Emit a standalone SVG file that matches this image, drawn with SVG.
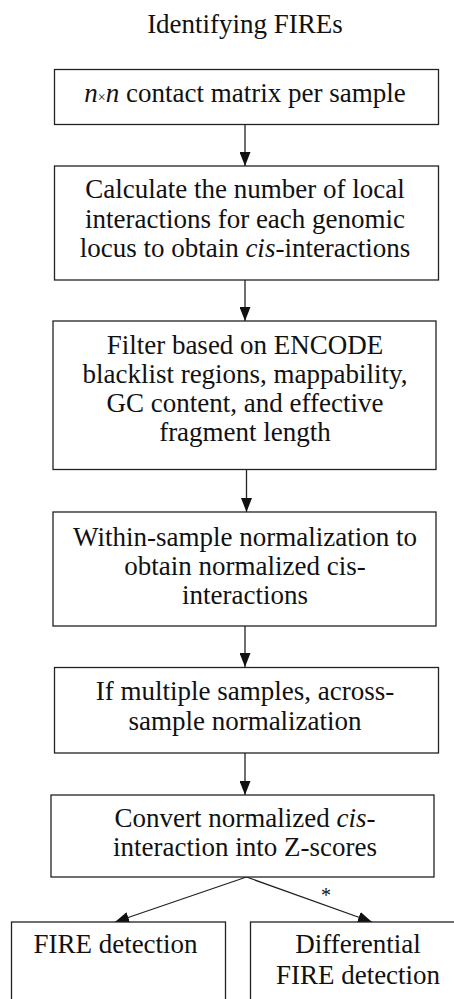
<svg xmlns="http://www.w3.org/2000/svg" width="454" height="999" viewBox="0 0 454 999">
<defs>
<style>
.box{fill:#fff;stroke:#222;stroke-width:1.3}
.t{font-family:"Liberation Serif","Times New Roman",serif;font-size:27px;fill:#111;text-anchor:middle}
.c{stroke:#222;stroke-width:1.3;fill:none}
</style>
<marker id="ah" viewBox="0 0 14 11" refX="14" refY="5.5" markerWidth="14" markerHeight="11" markerUnits="userSpaceOnUse" orient="auto">
<path d="M0,0 L14,5.5 L0,11 Z" fill="#111"/>
</marker>
</defs>
<rect width="454" height="999" fill="#fff"/>
<text class="t" x="245" y="33">Identifying FIREs</text>
<g id="connectors">
<line class="c" x1="245" y1="124" x2="245" y2="166" marker-end="url(#ah)"/>
<line class="c" x1="245" y1="280" x2="245" y2="321" marker-end="url(#ah)"/>
<line class="c" x1="246.5" y1="469" x2="246.5" y2="512" marker-end="url(#ah)"/>
<line class="c" x1="245" y1="626" x2="245" y2="667" marker-end="url(#ah)"/>
<line class="c" x1="245" y1="753" x2="245" y2="795" marker-end="url(#ah)"/>
<line class="c" x1="246.5" y1="877" x2="115" y2="922" marker-end="url(#ah)"/>
<line class="c" x1="246.5" y1="877" x2="372" y2="922" marker-end="url(#ah)"/>
<text class="t" x="326" y="902" style="font-size:20px">*</text>
</g>
<g id="n1">
<rect class="box" x="54.5" y="69.5" width="384" height="55"/>
<text class="t" x="245" y="102"><tspan font-style="italic">n</tspan><tspan font-size="14">×</tspan><tspan font-style="italic">n</tspan> contact matrix per sample</text>
</g>
<g id="n2">
<rect class="box" x="54.5" y="166" width="384" height="114"/>
<text class="t" x="245" y="198">Calculate the number of local</text>
<text class="t" x="245" y="227.5">interactions for each genomic</text>
<text class="t" x="245" y="257">locus to obtain <tspan font-style="italic">cis</tspan>-interactions</text>
</g>
<g id="n3">
<rect class="box" x="53" y="321" width="383" height="148.5"/>
<text class="t" x="245" y="354">Filter based on ENCODE</text>
<text class="t" x="245" y="383">blacklist regions, mappability,</text>
<text class="t" x="245" y="412">GC content, and effective</text>
<text class="t" x="245" y="441">fragment length</text>
</g>
<g id="n4">
<rect class="box" x="53" y="512" width="383" height="114"/>
<text class="t" x="245" y="546">Within-sample normalization to</text>
<text class="t" x="245" y="575">obtain normalized cis-</text>
<text class="t" x="245" y="604">interactions</text>
</g>
<g id="n5">
<rect class="box" x="54.5" y="667.5" width="384" height="85.5"/>
<text class="t" x="245" y="700">If multiple samples, across-</text>
<text class="t" x="245" y="729.5">sample normalization</text>
</g>
<g id="n6">
<rect class="box" x="51" y="795" width="383" height="82"/>
<text class="t" x="245" y="827">Convert normalized <tspan font-style="italic">cis</tspan>-</text>
<text class="t" x="245" y="856">interaction into Z-scores</text>
</g>
<g id="n7">
<rect class="box" x="11.5" y="922" width="214" height="100"/>
<text class="t" x="115.5" y="953">FIRE detection</text>
</g>
<g id="n8">
<rect class="box" x="250.5" y="922" width="230" height="100"/>
<text class="t" x="358" y="953">Differential</text>
<text class="t" x="358" y="983.5">FIRE detection</text>
</g>
</svg>
